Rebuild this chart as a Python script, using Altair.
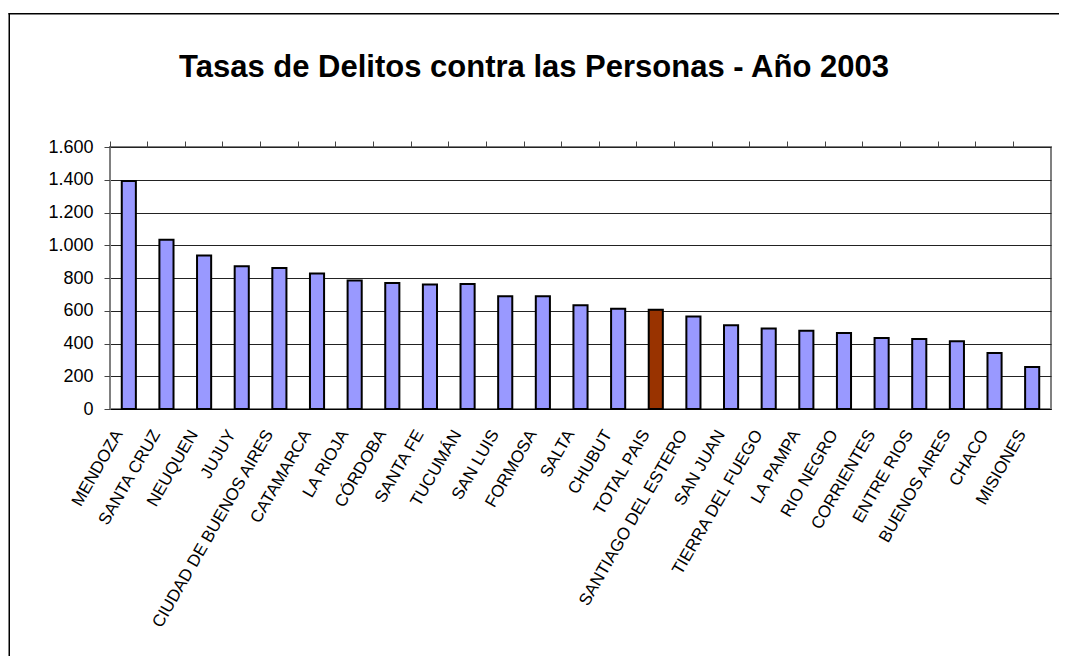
import altair as alt
import pandas as pd

titulo = "Tasas de Delitos contra las Personas - Año 2003"

provincias = [
    "MENDOZA", "SANTA CRUZ", "NEUQUEN", "JUJUY", "CIUDAD DE BUENOS AIRES",
    "CATAMARCA", "LA RIOJA", "CÓRDOBA", "SANTA FE", "TUCUMÁN", "SAN LUIS",
    "FORMOSA", "SALTA", "CHUBUT", "TOTAL PAIS", "SANTIAGO DEL ESTERO",
    "SAN JUAN", "TIERRA DEL FUEGO", "LA PAMPA", "RIO NEGRO", "CORRIENTES",
    "ENTRE RIOS", "BUENOS AIRES", "CHACO", "MISIONES",
]
tasas = [
    1392, 1034, 938, 871, 861,
    828, 785, 769, 761, 763, 688,
    688, 633, 612, 606, 565,
    512, 492, 478, 464, 433,
    427, 413, 342, 256,
]
grupos = ["total" if p == "TOTAL PAIS" else "provincia" for p in provincias]
y_ticks = [0, 200, 400, 600, 800, 1000, 1200, 1400, 1600]

df = pd.DataFrame({"provincia": provincias, "tasa": tasas, "grupo": grupos})

FONT = "Liberation Sans"
W, H = 941, 262

x_enc = alt.X(
    "provincia:N", sort=provincias,
    scale=alt.Scale(paddingInner=0, paddingOuter=0),
    axis=alt.Axis(
        title=None, labelAngle=-60, labelAlign="right", labelBaseline="middle",
        labelFont=FONT, labelFontSize=17, labelColor="black",
        labelPadding=22, labelOffset=-10, labelLimit=0,
        ticks=False, domain=True, domainColor="black", domainWidth=1,
        labelOverlap=False,
    ),
)

bars = alt.Chart(df).mark_bar(
    width=alt.RelativeBandSize(0.375), stroke="black", strokeWidth=2
).encode(
    x=x_enc,
    y=alt.Y(
        "tasa:Q",
        scale=alt.Scale(domain=[0, 1600], nice=False),
        axis=alt.Axis(
            title=None, values=y_ticks,
            labelExpr="replace(format(datum.value, ','), ',', '.')",
            labelFont=FONT, labelFontSize=18, labelColor="black",
            labelPadding=11, tickSize=6, tickColor="#444",
            grid=True, gridColor="#222", gridWidth=1,
            domain=True, domainColor="#808080", domainWidth=1,
        ),
    ),
    color=alt.Color(
        "grupo:N",
        scale=alt.Scale(domain=["provincia", "total"], range=["#9999FF", "#993300"]),
        legend=None,
    ),
)

ticks_layer = alt.Chart(df).mark_tick(opacity=0).encode(
    x=alt.X(
        "provincia:N", sort=provincias,
        scale=alt.Scale(paddingInner=0, paddingOuter=0),
        axis=alt.Axis(
            title=None, labels=False, bandPosition=0, ticks=True,
            tickSize=6, tickColor="#444", domain=False,
        ),
    ),
)

one = pd.DataFrame({"t": [titulo]})

title_mark = alt.Chart(one).mark_text(
    font=FONT, fontSize=31, fontWeight="bold", color="black",
    align="center", baseline="alphabetic",
).encode(
    x=alt.value(424), y=alt.value(-70), text="t:N",
)

frame_left = alt.Chart(one).mark_rect(color="black").encode(
    x=alt.value(-101.5), x2=alt.value(-100), y=alt.value(-134), y2=alt.value(509),
)
frame_top = alt.Chart(one).mark_rect(color="black").encode(
    x=alt.value(-101.5), x2=alt.value(949), y=alt.value(-134), y2=alt.value(-132.5),
)

chart = alt.layer(
    frame_left, frame_top, title_mark, bars, ticks_layer
).resolve_axis(
    x="independent"
).properties(
    width=W, height=H,
    autosize=alt.AutoSizeParams(type="none"),
    padding={"left": 102, "top": 139, "right": 8, "bottom": 247},
    background="white",
).configure_view(
    stroke="#808080", strokeWidth=2,
)

chart.save("out.html", embed_options={"renderer": "svg", "actions": False})
